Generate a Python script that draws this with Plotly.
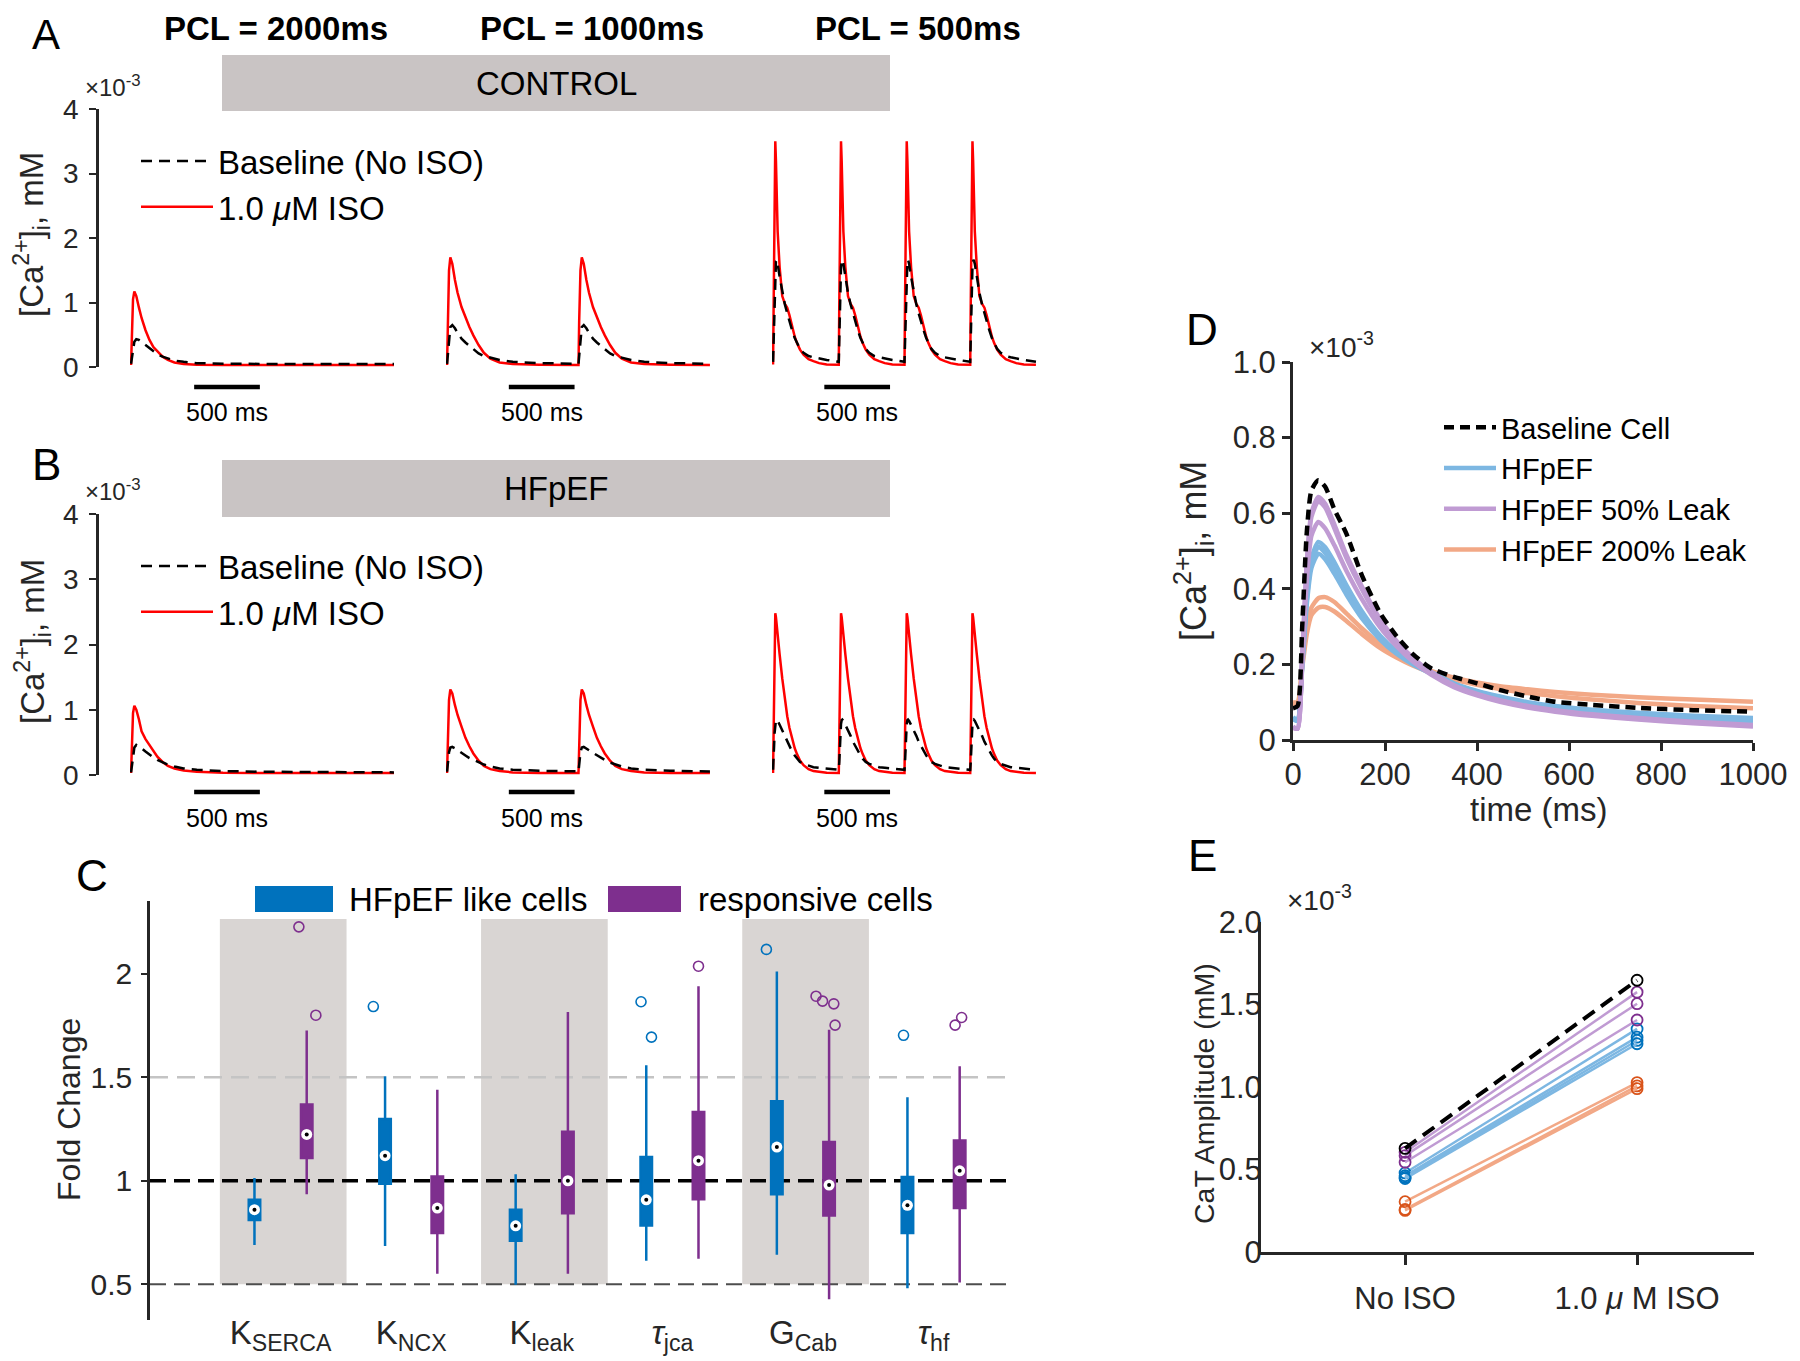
import plotly.graph_objects as go

W, H = 1800, 1361
OX, OY = 8, 8  # page body margin offset of the rendered figure
FONT = "Liberation Sans, Arial, Helvetica, sans-serif"
INK = "#262626"


def px(x):
    return (x - OX) / W


def py(y):
    return 1 - (y - OY) / H


# ---------------- Panels A & B : single-beat [Ca2+]i waveforms (x10^-3 mM) ----------------
PCL = [2000, 1000, 500]
BEATS_SHOWN = [1, 2, 4]
PCL_TITLES = ["PCL = 2000ms", "PCL = 1000ms", "PCL = 500ms"]

t_2000 = [0, 5, 15, 25, 40, 60, 80, 110, 140, 170, 200, 240, 280, 330, 400, 500, 700, 1000, 1500, 2000]
ctrl_iso_2000 = [0.03, 0.5, 1.05, 1.17, 1.1, 0.92, 0.76, 0.57, 0.42, 0.31, 0.24, 0.16, 0.11, 0.07, 0.045, 0.035, 0.03, 0.03, 0.03, 0.03]
ctrl_base_2000 = [0.05, 0.12, 0.3, 0.39, 0.43, 0.42, 0.39, 0.34, 0.29, 0.24, 0.2, 0.16, 0.13, 0.1, 0.08, 0.06, 0.05, 0.045, 0.045, 0.045]
hf_iso_2000 = [0.03, 0.45, 0.95, 1.06, 1.0, 0.85, 0.67, 0.55, 0.46, 0.36, 0.28, 0.2, 0.14, 0.1, 0.07, 0.05, 0.035, 0.03, 0.03, 0.03]
hf_base_2000 = [0.04, 0.12, 0.3, 0.42, 0.46, 0.44, 0.41, 0.36, 0.31, 0.27, 0.23, 0.19, 0.16, 0.13, 0.1, 0.08, 0.06, 0.05, 0.045, 0.04]

t_1000 = [0, 5, 15, 25, 40, 60, 80, 110, 140, 170, 200, 240, 280, 330, 400, 500, 700, 1000]
ctrl_iso_1000 = [0.03, 0.7, 1.5, 1.7, 1.6, 1.35, 1.15, 0.93, 0.76, 0.62, 0.49, 0.34, 0.22, 0.13, 0.07, 0.045, 0.035, 0.03]
ctrl_base_1000 = [0.05, 0.15, 0.45, 0.62, 0.65, 0.6, 0.53, 0.44, 0.38, 0.33, 0.28, 0.21, 0.17, 0.14, 0.11, 0.08, 0.06, 0.05]
hf_iso_1000 = [0.03, 0.55, 1.15, 1.31, 1.25, 1.07, 0.92, 0.74, 0.57, 0.44, 0.33, 0.22, 0.14, 0.09, 0.06, 0.04, 0.03, 0.03]
hf_base_1000 = [0.05, 0.15, 0.35, 0.42, 0.43, 0.41, 0.38, 0.34, 0.3, 0.26, 0.23, 0.19, 0.16, 0.13, 0.1, 0.08, 0.065, 0.055]

t_500 = [0, 4, 8, 12, 17, 22, 27, 35, 50, 70, 90, 108, 125, 145, 165, 182, 205, 232, 270, 307, 350, 408, 500]
ctrl_iso_500 = [0.04, 1.0, 2.2, 3.1, 3.5, 3.2, 2.6, 2.1, 1.55, 1.1, 0.98, 0.92, 0.8, 0.62, 0.47, 0.37, 0.27, 0.19, 0.12, 0.09, 0.06, 0.04, 0.035]
ctrl_base_500 = [0.08, 0.4, 0.9, 1.3, 1.55, 1.64, 1.66, 1.6, 1.4, 1.15, 0.97, 0.83, 0.7, 0.57, 0.45, 0.37, 0.28, 0.22, 0.17, 0.15, 0.13, 0.11, 0.08]
hf_iso_500 = [0.03, 0.8, 1.6, 2.2, 2.48, 2.42, 2.3, 2.17, 1.85, 1.48, 1.13, 0.9, 0.72, 0.54, 0.41, 0.32, 0.22, 0.15, 0.09, 0.06, 0.045, 0.035, 0.03]
hf_base_500 = [0.08, 0.2, 0.45, 0.65, 0.78, 0.84, 0.85, 0.83, 0.77, 0.68, 0.6, 0.51, 0.44, 0.36, 0.3, 0.25, 0.2, 0.17, 0.14, 0.12, 0.11, 0.095, 0.08]

SCALEBAR_START = [480, 470, 390]  # ms, start of the 500 ms scale bar in each segment
SCALEBAR_LEN = 500

# ---------------- Panel C : fold-change box statistics ----------------
C_PARAMS = ["K<sub>SERCA</sub>", "K<sub>NCX</sub>", "K<sub>leak</sub>",
            "<i>τ</i><sub>jca</sub>", "G<sub>Cab</sub>", "<i>τ</i><sub>hf</sub>"]
hf_q1 = [0.81, 0.985, 0.71, 0.784, 0.935, 0.747]
hf_med = [0.86, 1.121, 0.782, 0.908, 1.163, 0.881]
hf_q3 = [0.908, 1.298, 0.86, 1.115, 1.384, 1.018]
hf_lo = [0.69, 0.685, 0.497, 0.613, 0.642, 0.48]
hf_hi = [1.013, 1.505, 1.032, 1.558, 2.011, 1.403]
resp_q1 = [1.11, 0.747, 0.843, 0.911, 0.832, 0.868]
resp_med = [1.224, 0.868, 1.0, 1.097, 0.979, 1.048]
resp_q3 = [1.368, 1.021, 1.237, 1.332, 1.187, 1.194]
resp_lo = [0.935, 0.55, 0.55, 0.623, 0.427, 0.508]
resp_hi = [1.726, 1.44, 1.816, 1.94, 1.73, 1.553]
hf_out_idx = [1, 3, 3, 4, 5]
hf_out_val = [1.842, 1.865, 1.694, 2.118, 1.703]
hf_out_jit = [-0.09, -0.04, 0.04, -0.08, -0.03]
resp_out_idx = [0, 0, 3, 4, 4, 4, 4, 5, 5]
resp_out_val = [2.227, 1.80, 2.037, 1.892, 1.868, 1.855, 1.752, 1.752, 1.789]
resp_out_jit = [-0.06, 0.07, 0.0, -0.10, -0.05, 0.036, 0.046, -0.035, 0.015]
C_SHADED = [0, 2, 4]

# ---------------- Panel D : single CaT traces (x10^-3 mM) ----------------
d_t = [0, 10, 20, 30, 40, 55, 70, 90, 116, 150, 190, 225, 260, 300, 350, 400, 450, 510, 570, 650, 750, 870, 1000]
d_baseline = [0.084, 0.09, 0.30, 0.55, 0.66, 0.687, 0.67, 0.61, 0.546, 0.435, 0.335, 0.275, 0.228, 0.19, 0.167, 0.15, 0.132, 0.115, 0.101, 0.093, 0.085, 0.079, 0.075]
d_hfpef = [
    [0.06, 0.055, 0.2, 0.38, 0.48, 0.524, 0.51, 0.47, 0.41, 0.34, 0.275, 0.235, 0.205, 0.18, 0.15, 0.13, 0.115, 0.1, 0.09, 0.08, 0.072, 0.064, 0.058],
    [0.058, 0.053, 0.2, 0.37, 0.47, 0.511, 0.495, 0.455, 0.395, 0.33, 0.27, 0.232, 0.203, 0.178, 0.148, 0.128, 0.112, 0.097, 0.087, 0.077, 0.068, 0.06, 0.053],
    [0.055, 0.05, 0.19, 0.36, 0.455, 0.493, 0.478, 0.44, 0.385, 0.322, 0.265, 0.228, 0.2, 0.175, 0.145, 0.125, 0.108, 0.094, 0.083, 0.073, 0.064, 0.056, 0.049],
]
d_leak50 = [
    [0.035, 0.03, 0.22, 0.47, 0.6, 0.643, 0.625, 0.57, 0.49, 0.405, 0.318, 0.262, 0.218, 0.18, 0.145, 0.122, 0.105, 0.09, 0.079, 0.068, 0.058, 0.048, 0.04],
    [0.033, 0.03, 0.22, 0.46, 0.59, 0.632, 0.615, 0.56, 0.482, 0.398, 0.313, 0.258, 0.215, 0.178, 0.143, 0.12, 0.103, 0.088, 0.077, 0.066, 0.056, 0.046, 0.038],
    [0.032, 0.03, 0.2, 0.42, 0.54, 0.577, 0.56, 0.515, 0.448, 0.372, 0.297, 0.248, 0.208, 0.173, 0.14, 0.118, 0.101, 0.086, 0.075, 0.064, 0.054, 0.044, 0.036],
]
d_leak200 = [
    [0.10, 0.10, 0.2, 0.3, 0.35, 0.375, 0.378, 0.365, 0.335, 0.295, 0.253, 0.225, 0.203, 0.183, 0.165, 0.152, 0.142, 0.134, 0.127, 0.12, 0.113, 0.107, 0.101],
    [0.095, 0.095, 0.19, 0.28, 0.33, 0.35, 0.352, 0.34, 0.315, 0.28, 0.243, 0.218, 0.197, 0.178, 0.16, 0.146, 0.135, 0.124, 0.116, 0.107, 0.098, 0.09, 0.084],
]

# ---------------- Panel E : CaT amplitude (x10^-3 mM) ----------------
E_CONDITIONS = ["No ISO", "1.0 <i>μ</i> M ISO"]
e_base = [0.628, 1.647]
e_leak50_no = [0.604, 0.584, 0.544]
e_leak50_iso = [1.575, 1.505, 1.406]
e_hf_no = [0.479, 0.462, 0.452, 0.445]
e_hf_iso = [1.352, 1.302, 1.282, 1.262]
e_leak200_no = [0.305, 0.258, 0.252]
e_leak200_iso = [1.027, 1.007, 0.99]

# ---------------- colours ----------------
RED = "#FF0000"
BLUE = "#0072BD"
PURPLE = "#7E2F8E"
ORANGE = "#D95319"
L_BLUE = "#7DB7E2"
L_PURPLE = "#C09BD3"
L_ORANGE = "#F2A886"
BAND = "#D9D5D3"
BAR = "#C9C4C4"

fig = go.Figure()


def tile(t, v, pcl, n):
    xs, ys = [], []
    for k in range(n):
        xs += [ti + k * pcl for ti in t]
        ys += list(v)
    return xs, ys


beat_t = [t_2000, t_1000, t_500]
rows = [
    dict(xaxes=["x", "x2", "x3"], yaxis="y", legend="legend",
         iso=[ctrl_iso_2000, ctrl_iso_1000, ctrl_iso_500],
         base=[ctrl_base_2000, ctrl_base_1000, ctrl_base_500]),
    dict(xaxes=["x4", "x5", "x6"], yaxis="y2", legend="legend2",
         iso=[hf_iso_2000, hf_iso_1000, hf_iso_500],
         base=[hf_base_2000, hf_base_1000, hf_base_500]),
]
for r in rows:
    for i in range(3):
        xs, yi = tile(beat_t[i], r["iso"][i], PCL[i], BEATS_SHOWN[i])
        _, yb = tile(beat_t[i], r["base"][i], PCL[i], BEATS_SHOWN[i])
        fig.add_trace(go.Scatter(x=xs, y=yi, mode="lines", name="1.0 <i>μ</i>M ISO",
                                 line=dict(color=RED, width=2.5),
                                 xaxis=r["xaxes"][i], yaxis=r["yaxis"], legend=r["legend"],
                                 showlegend=(i == 0), legendrank=2))
        fig.add_trace(go.Scatter(x=xs, y=yb, mode="lines", name="Baseline (No ISO)",
                                 line=dict(color="black", width=2.5, dash="11px,7px"),
                                 xaxis=r["xaxes"][i], yaxis=r["yaxis"], legend=r["legend"],
                                 showlegend=(i == 0), legendrank=1))

# ---- Panel C boxes
HF_OFF, RESP_OFF = -0.2, 0.2
for k in range(len(C_PARAMS)):
    for off, col, q1, med, q3, lo, hi in [
        (HF_OFF, BLUE, hf_q1, hf_med, hf_q3, hf_lo, hf_hi),
        (RESP_OFF, PURPLE, resp_q1, resp_med, resp_q3, resp_lo, resp_hi),
    ]:
        fig.add_trace(go.Box(x=[k + 1 + off], q1=[q1[k]], median=[med[k]], q3=[q3[k]],
                             lowerfence=[lo[k]], upperfence=[hi[k]],
                             width=0.088, whiskerwidth=0, fillcolor=col,
                             line=dict(color=col, width=2.5), boxpoints=False,
                             xaxis="x7", yaxis="y3", showlegend=False, hoverinfo="skip"))
med_x = [k + 1 + HF_OFF for k in range(len(C_PARAMS))] + [k + 1 + RESP_OFF for k in range(len(C_PARAMS))]
med_y = hf_med + resp_med
fig.add_trace(go.Scatter(x=med_x, y=med_y, mode="markers", xaxis="x7", yaxis="y3",
                         marker=dict(color="white", size=11, line=dict(width=0)), showlegend=False))
fig.add_trace(go.Scatter(x=med_x, y=med_y, mode="markers", xaxis="x7", yaxis="y3",
                         marker=dict(color="black", size=4, line=dict(width=0)), showlegend=False))
fig.add_trace(go.Scatter(x=[i + 1 + HF_OFF + j for i, j in zip(hf_out_idx, hf_out_jit)], y=hf_out_val,
                         mode="markers", xaxis="x7", yaxis="y3", showlegend=False,
                         marker=dict(symbol="circle-open", color=BLUE, size=10, line=dict(width=1.6))))
fig.add_trace(go.Scatter(x=[i + 1 + RESP_OFF + j for i, j in zip(resp_out_idx, resp_out_jit)], y=resp_out_val,
                         mode="markers", xaxis="x7", yaxis="y3", showlegend=False,
                         marker=dict(symbol="circle-open", color=PURPLE, size=10, line=dict(width=1.6))))

# ---- Panel D traces
for group, col, name, rank in [(d_leak200, L_ORANGE, "HFpEF 200% Leak", 4),
                               (d_hfpef, L_BLUE, "HFpEF", 2),
                               (d_leak50, L_PURPLE, "HFpEF 50% Leak", 3)]:
    for j, ys in enumerate(group):
        fig.add_trace(go.Scatter(x=d_t, y=ys, mode="lines", name=name, legendgroup=name,
                                 line=dict(color=col, width=4.5, shape="spline", smoothing=0.6),
                                 xaxis="x8", yaxis="y4", legend="legend3",
                                 showlegend=(j == 0), legendrank=rank))
fig.add_trace(go.Scatter(x=d_t, y=d_baseline, mode="lines", name="Baseline Cell", legendgroup="base",
                         line=dict(color="black", width=4.5, dash="10px,6px", shape="spline", smoothing=0.6),
                         xaxis="x8", yaxis="y4", legend="legend3", legendrank=1))

# ---- Panel E paired amplitudes
for no_l, iso_l, lcol, mcol in [(e_leak200_no, e_leak200_iso, L_ORANGE, ORANGE),
                                (e_hf_no, e_hf_iso, L_BLUE, BLUE),
                                (e_leak50_no, e_leak50_iso, L_PURPLE, PURPLE)]:
    for a, b in zip(no_l, iso_l):
        fig.add_trace(go.Scatter(x=[1, 2], y=[a, b], mode="lines+markers", xaxis="x9", yaxis="y5",
                                 showlegend=False, line=dict(color=lcol, width=2.5),
                                 marker=dict(symbol="circle-open", color=mcol, size=11, line=dict(width=1.8))))
fig.add_trace(go.Scatter(x=[1, 2], y=e_base, mode="lines+markers", xaxis="x9", yaxis="y5",
                         showlegend=False, line=dict(color="black", width=4, dash="14px,8px"),
                         marker=dict(symbol="circle-open", color="black", size=11, line=dict(width=1.8))))

# ---------------- layout ----------------
SEG_DOM = [(130, 395), (446, 711), (772, 1037)]
A_Y = (367, 109)
B_Y = (775, 514)

common_axis = dict(showgrid=False, zeroline=False, linecolor=INK, tickcolor=INK, automargin=False,
                   tickfont=dict(family=FONT, color=INK))
layout = dict(
    width=W, height=H, margin=dict(l=0, r=0, t=0, b=0, pad=0, autoexpand=False),
    paper_bgcolor="white", plot_bgcolor="rgba(0,0,0,0)",
    font=dict(family=FONT, color="black"),
    showlegend=True,
)

ax_names_A = ["xaxis", "xaxis2", "xaxis3"]
ax_names_B = ["xaxis4", "xaxis5", "xaxis6"]
for names, yname in [(ax_names_A, "y"), (ax_names_B, "y2")]:
    for n, (d0, d1) in zip(names, SEG_DOM):
        layout[n] = dict(domain=[px(d0), px(d1)], range=[-8, 2008], visible=False, anchor=yname,
                         showgrid=False, zeroline=False, automargin=False)

for yname, (ybot, ytop) in [("yaxis", A_Y), ("yaxis2", B_Y)]:
    ax = dict(common_axis)
    ax.update(domain=[py(ybot), py(ytop)], range=[0, 4], anchor="free", position=px(97),
              showline=True, linewidth=2.5, ticks="outside", ticklen=7, tickwidth=2,
              tickvals=[0, 1, 2, 3, 4], ticklabelstandoff=5)
    ax["tickfont"] = dict(family=FONT, color=INK, size=28)
    layout[yname] = ax

# Panel C axes
C_TOP, C_BOT = 901, 1320
c_x = dict(common_axis)
c_x.update(domain=[px(150), px(1008)], range=[0, 6.57], anchor="y3", showline=False, ticks="",
           tickvals=list(range(1, len(C_PARAMS) + 1)), ticktext=C_PARAMS, ticklabelstandoff=-10)
c_x["tickfont"] = dict(family=FONT, color=INK, size=33)
layout["xaxis7"] = c_x
c_y = dict(common_axis)
c_y.update(domain=[py(C_BOT), py(C_TOP)], range=[0.327, 2.352], anchor="x7", showline=True,
           linewidth=2.5, ticks="outside", ticklen=6, tickwidth=2, ticklabelstandoff=3,
           tickvals=[0.5, 1, 1.5, 2], ticktext=["0.5", "1", "1.5", "2"])
c_y["tickfont"] = dict(family=FONT, color=INK, size=30)
layout["yaxis3"] = c_y

# Panel D axes
d_x = dict(common_axis)
d_x.update(domain=[px(1293), px(1753)], range=[0, 1000], anchor="y4", showline=True, linewidth=3,
           ticks="outside", ticklen=8, tickwidth=2.5, tickvals=[0, 200, 400, 600, 800, 1000],
           ticklabelstandoff=-3)
d_x["tickfont"] = dict(family=FONT, color=INK, size=31)
layout["xaxis8"] = d_x
d_y = dict(common_axis)
d_y.update(domain=[py(740), py(362)], range=[0, 1.0], anchor="x8", showline=True, linewidth=3,
           ticks="outside", ticklen=8, tickwidth=2.5, tickvals=[0, 0.2, 0.4, 0.6, 0.8, 1.0],
           ticktext=["0", "0.2", "0.4", "0.6", "0.8", "1.0"])
d_y["tickfont"] = dict(family=FONT, color=INK, size=31)
layout["yaxis4"] = d_y

# Panel E axes
e_x = dict(common_axis)
e_x.update(domain=[px(1261), px(1754)], range=[0.379, 2.504], anchor="y5", showline=True, linewidth=3,
           ticks="outside", ticklen=10, tickwidth=2.5, tickvals=[1, 2], ticktext=E_CONDITIONS,
           ticklabelstandoff=7)
e_x["tickfont"] = dict(family=FONT, color=INK, size=31)
layout["xaxis9"] = e_x
e_y = dict(common_axis)
e_y.update(domain=[py(1252), py(922)], range=[0, 2.0], anchor="x9", showline=True, linewidth=3,
           ticks="", tickvals=[0, 0.5, 1.0, 1.5, 2.0], ticktext=["0", "0.5", "1.0", "1.5", "2.0"],
           ticklabelstandoff=-10)
e_y["tickfont"] = dict(family=FONT, color=INK, size=31)
layout["yaxis5"] = e_y

# legends
leg_common = dict(bgcolor="rgba(0,0,0,0)", borderwidth=0, xanchor="left", yanchor="top",
                  traceorder="normal", tracegroupgap=0)
layout["legend"] = dict(leg_common, x=px(136), y=py(133), itemwidth=72,
                        font=dict(family=FONT, size=33, color="black"))
layout["legend2"] = dict(leg_common, x=px(136), y=py(538), itemwidth=72,
                         font=dict(family=FONT, size=33, color="black"))
layout["legend3"] = dict(leg_common, x=px(1439), y=py(402), itemwidth=52,
                         font=dict(family=FONT, size=29, color="black"))

shapes = []
annotations = []

# gray condition bars
for (y0, y1, label) in [(55, 111, "CONTROL"), (460, 517, "HFpEF")]:
    shapes.append(dict(type="rect", xref="paper", yref="paper", x0=px(222), x1=px(890),
                       y0=py(y1), y1=py(y0), fillcolor=BAR, line=dict(width=0), layer="below"))
    annotations.append(dict(text=label, xref="paper", yref="paper", x=px(556), y=py((y0 + y1) / 2),
                            showarrow=False, font=dict(size=33, color="black"),
                            xanchor="center", yanchor="middle"))

# PCL titles
for title, (d0, d1) in zip(PCL_TITLES, SEG_DOM):
    annotations.append(dict(text="<b>" + title + "</b>", xref="paper", yref="paper",
                            x=px((d0 + d1) / 2 + 13), y=py(29), showarrow=False,
                            font=dict(size=33, color="black"), xanchor="center", yanchor="middle"))

# scale bars
for xaxes, bar_y, lab_y in [(["x", "x2", "x3"], 387, 412), (["x4", "x5", "x6"], 792, 818)]:
    for xa, s in zip(xaxes, SCALEBAR_START):
        shapes.append(dict(type="line", xref=xa, yref="paper", x0=s, x1=s + SCALEBAR_LEN,
                           y0=py(bar_y), y1=py(bar_y), line=dict(color="black", width=4.5)))
        annotations.append(dict(text="500 ms", xref=xa, yref="paper", x=s + SCALEBAR_LEN / 2,
                                y=py(lab_y), showarrow=False, font=dict(size=25, color="black"),
                                xanchor="center", yanchor="middle"))

# Panel C shaded bands and reference lines
for k in C_SHADED:
    shapes.append(dict(type="rect", xref="x7", yref="y3", x0=k + 1 - 0.465, x1=k + 1 + 0.505,
                       y0=0.5, y1=2.265, fillcolor=BAND, line=dict(width=0), layer="below"))
for yv, col, wd, dash in [(1.5, "#C4C4C4", 2.5, "18px,9px"), (1.0, "black", 3.5, "16px,8px"),
                          (0.5, "#4D4D4D", 2, "16px,8px")]:
    shapes.append(dict(type="line", xref="x7", yref="y3", x0=0, x1=6.57, y0=yv, y1=yv,
                       line=dict(color=col, width=wd, dash=dash), layer="below"))

# Panel C legend (filled rectangles)
for (x0, x1, col, tx, label) in [(255, 333, BLUE, 347, "HFpEF like cells"),
                                 (608, 681, PURPLE, 696, "responsive cells")]:
    shapes.append(dict(type="rect", xref="paper", yref="paper", x0=px(x0), x1=px(x1),
                       y0=py(912), y1=py(886), fillcolor=col, line=dict(width=0)))
    annotations.append(dict(text=label, xref="paper", yref="paper", x=px(tx), y=py(899),
                            showarrow=False, font=dict(size=33, color="black"),
                            xanchor="left", yanchor="middle"))

# panel letters
annotations.append(dict(text="A", xref="paper", yref="paper", x=px(46), y=py(9),
                        showarrow=False, font=dict(size=42, color="black"),
                        xanchor="center", yanchor="top"))
for letter, (lx, ly) in zip("BCDE", [(46, 464), (92, 875), (1202, 329), (1202, 855)]):
    annotations.append(dict(text=letter, xref="paper", yref="paper", x=px(lx), y=py(ly),
                            showarrow=False, font=dict(size=44, color="black"),
                            xanchor="center", yanchor="middle"))

# exponent labels
for (ex, ey, fs) in [(113, 86, 24), (113, 490, 24), (1341, 345, 28), (1319, 898, 28)]:
    annotations.append(dict(text="×10<sup>-3</sup>", xref="paper", yref="paper", x=px(ex), y=py(ey),
                            showarrow=False, font=dict(size=fs, color=INK),
                            xanchor="center", yanchor="middle"))

# axis titles
CA_LABEL = "[Ca<sup>2+</sup>]<sub>i</sub>, mM"
for (text, tx, ty, fs, ang) in [(CA_LABEL, 32, 235, 33, -90), (CA_LABEL, 32, 642, 33, -90),
                                ("Fold Change", 69, 1110, 32, -90),
                                (CA_LABEL, 1194, 551, 36, -90),
                                ("time (ms)", 1538, 809, 33, 0),
                                ("CaT Amplitude (mM)", 1204, 1094, 28.5, -90)]:
    annotations.append(dict(text=text, xref="paper", yref="paper", x=px(tx), y=py(ty),
                            showarrow=False, textangle=ang, font=dict(size=fs, color=INK),
                            xanchor="center", yanchor="middle"))

layout["shapes"] = shapes
layout["annotations"] = annotations
fig.update_layout(**layout)

fig.write_html("out.html")
